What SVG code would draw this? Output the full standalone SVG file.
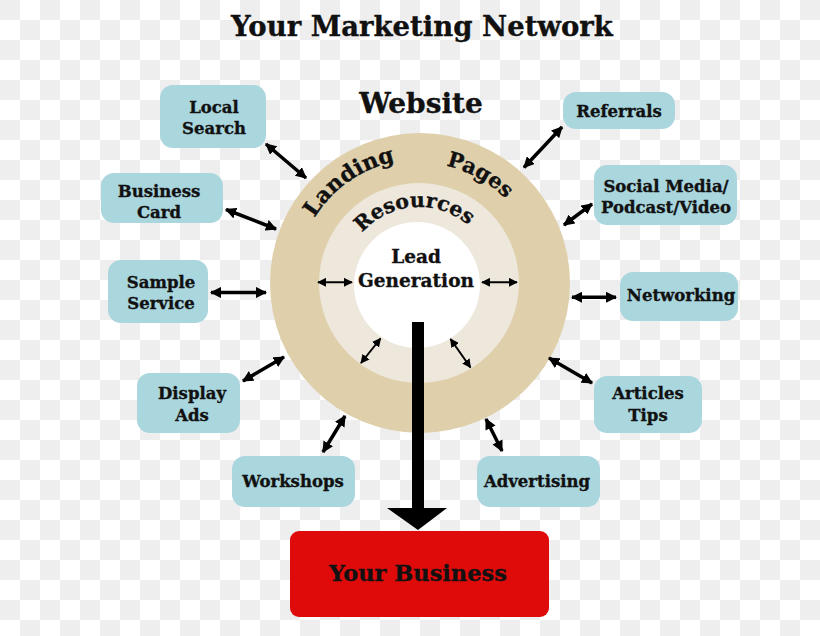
<svg xmlns="http://www.w3.org/2000/svg" width="820" height="636" viewBox="0 0 820 636">
<defs>
<pattern id="checker" x="0" y="0" width="40" height="40" patternUnits="userSpaceOnUse">
<rect width="40" height="40" fill="#ffffff"/>
<rect x="0" y="0" width="20" height="20" fill="#eeeeee"/>
<rect x="20" y="20" width="20" height="20" fill="#eeeeee"/>
</pattern>
<marker id="ah" viewBox="0 0 10 10" refX="9" refY="5" markerWidth="3.2" markerHeight="3.2" orient="auto-start-reverse" markerUnits="strokeWidth">
<path d="M0,0 L10,5 L0,10 z" fill="#000"/>
</marker>
<marker id="ahs" viewBox="0 0 10 10" refX="9" refY="5" markerWidth="4.5" markerHeight="4.5" orient="auto-start-reverse" markerUnits="strokeWidth">
<path d="M0,0 L10,5 L0,10 z" fill="#000"/>
</marker>
<path id="arcLanding" d="M303.5,240.6 A124,124 0 0 1 420,159"/>
<path id="arcPages" d="M417.9,163 A120,120 0 0 1 522.9,221.2"/>
<path id="arcRes" d="M350.7,249.7 A76,76 0 0 1 482,240.5"/>
</defs>
<style>
.t{font-family:"DejaVu Serif","Liberation Serif",serif;font-weight:bold;fill:#111;stroke:#111;stroke-width:0.35;text-anchor:middle}
.lbl{font-size:16.5px}
.node rect{fill:#aad6de}
.c{stroke:#000;stroke-width:3.5;fill:none;marker-start:url(#ah);marker-end:url(#ah)}
.ci{stroke:#000;stroke-width:2;fill:none;marker-start:url(#ahs);marker-end:url(#ahs)}
</style>
<rect width="820" height="636" fill="url(#checker)"/>
<text class="t" x="422" y="36" font-size="27.5">Your Marketing Network</text>
<text class="t" x="421" y="113" font-size="28">Website</text>

<g id="website">
<circle cx="420" cy="283" r="150" fill="#dfd0ab"/>
<circle cx="419" cy="283" r="100" fill="#ede7dc"/>
<circle cx="417" cy="285" r="63" fill="#ffffff"/>
<text class="t" font-size="22"><textPath href="#arcLanding" startOffset="50%">Landing</textPath></text>
<text class="t" font-size="21"><textPath href="#arcPages" startOffset="50%">Pages</textPath></text>
<text class="t" font-size="20.5"><textPath href="#arcRes" startOffset="50%">Resources</textPath></text>
<text class="t" x="416" y="263" font-size="18.5">Lead</text>
<text class="t" x="416" y="287" font-size="18.5">Generation</text>
</g>

<g id="n-local" class="node"><rect x="160" y="85" width="106" height="63" rx="13"/><text class="t lbl" x="214" y="113">Local</text><text class="t lbl" x="214" y="134">Search</text></g>
<g id="n-bcard" class="node"><rect x="101" y="173" width="122" height="50" rx="13"/><text class="t lbl" x="159" y="197">Business</text><text class="t lbl" x="159" y="218">Card</text></g>
<g id="n-sample" class="node"><rect x="108" y="260" width="100" height="63" rx="13"/><text class="t lbl" x="161" y="288">Sample</text><text class="t lbl" x="161" y="309">Service</text></g>
<g id="n-display" class="node"><rect x="137" y="373" width="103" height="60" rx="13"/><text class="t lbl" x="192" y="399">Display</text><text class="t lbl" x="192" y="421">Ads</text></g>
<g id="n-workshops" class="node"><rect x="232" y="456" width="123" height="51" rx="13"/><text class="t lbl" x="293" y="487">Workshops</text></g>
<g id="n-advertising" class="node"><rect x="477" y="456" width="123" height="51" rx="13"/><text class="t lbl" x="537" y="487">Advertising</text></g>
<g id="n-articles" class="node"><rect x="594" y="376" width="108" height="57" rx="13"/><text class="t lbl" x="648" y="399">Articles</text><text class="t lbl" x="648" y="421">Tips</text></g>
<g id="n-networking" class="node"><rect x="620" y="272" width="118" height="49" rx="13"/><text class="t lbl" x="681" y="301">Networking</text></g>
<g id="n-social" class="node"><rect x="594" y="165" width="143" height="60" rx="13"/><text class="t lbl" x="666" y="192">Social Media/</text><text class="t lbl" x="666" y="213">Podcast/Video</text></g>
<g id="n-referrals" class="node"><rect x="563" y="92" width="112" height="37" rx="13"/><text class="t lbl" x="619" y="117">Referrals</text></g>

<g id="n-business">
<rect x="290" y="531" width="259" height="86" rx="9" fill="#df0b0b"/>
<text class="t" x="418" y="581" font-size="22.5">Your Business</text>
</g>

<g id="connectors">
<line class="c" x1="266" y1="144" x2="306" y2="178"/>
<line class="c" x1="226" y1="209.5" x2="276" y2="229"/>
<line class="c" x1="211" y1="292.5" x2="266" y2="292.5"/>
<line class="c" x1="243" y1="381" x2="284" y2="357"/>
<line class="c" x1="323" y1="452" x2="345" y2="416"/>
<line class="c" x1="486" y1="419" x2="502" y2="451"/>
<line class="c" x1="549" y1="358" x2="592" y2="383"/>
<line class="c" x1="572" y1="297.3" x2="616" y2="297.3"/>
<line class="c" x1="564" y1="225" x2="592" y2="204"/>
<line class="c" x1="524" y1="167.5" x2="562" y2="127"/>
<line class="ci" x1="318" y1="282.3" x2="352" y2="282.3"/>
<line class="ci" x1="482" y1="282.3" x2="517" y2="282.3"/>
<line class="ci" x1="361" y1="363" x2="380.5" y2="338.5"/>
<line class="ci" x1="450.5" y1="339" x2="470.5" y2="367.5"/>
<rect x="412" y="322" width="12" height="188" fill="#000"/>
<polygon points="387,508 447,508 418,530" fill="#000"/>
</g>
</svg>
